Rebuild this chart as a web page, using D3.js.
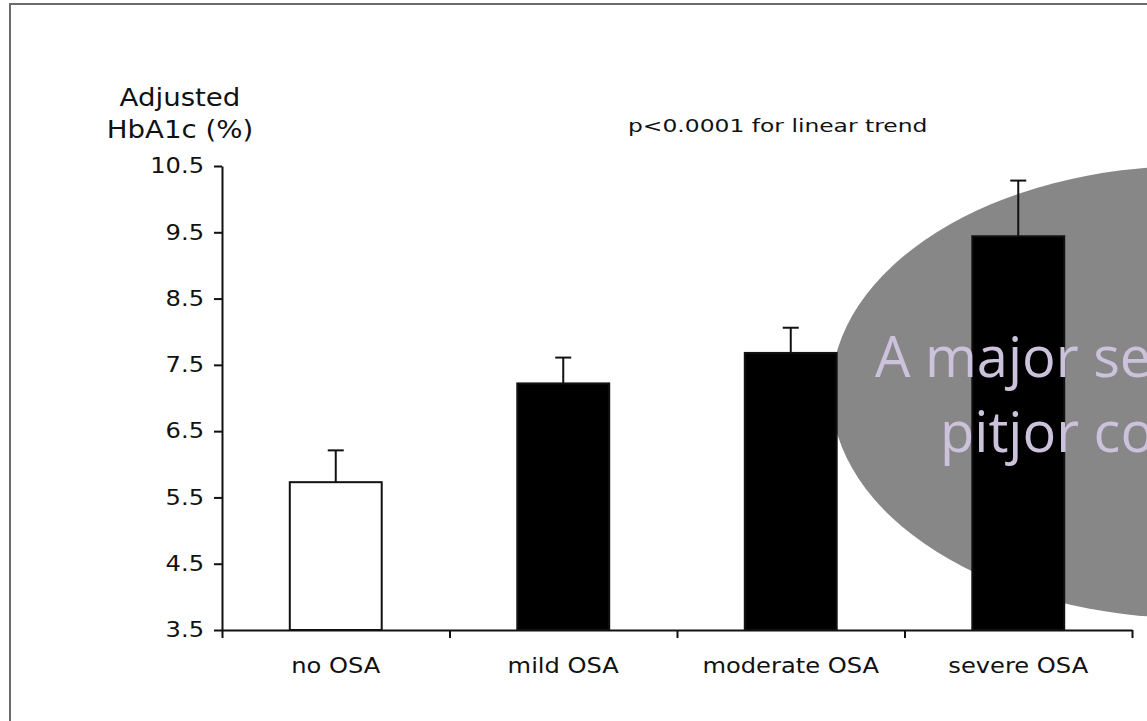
<!DOCTYPE html>
<html>
<head>
<meta charset="utf-8">
<script src="https://cdn.jsdelivr.net/npm/d3@7"></script>
<style>
  html, body { margin: 0; padding: 0; background: #fff; }
  svg { display: block; }
  text { font-family: "DejaVu Sans", Verdana, sans-serif; }
</style>
</head>
<body>
<svg id="chart" width="1147" height="721"></svg>
<script>
// ---- data ----
const categories = ["no OSA", "mild OSA", "moderate OSA", "severe OSA"];
const hba1c = [5.73, 7.22, 7.68, 9.44];
const errorTop = [6.21, 7.61, 8.06, 10.28];
const barFills = ["#ffffff", "#000000", "#000000", "#000000"];
const yTicks = [3.5, 4.5, 5.5, 6.5, 7.5, 8.5, 9.5, 10.5];
const titleLines = ["Adjusted", "HbA1c (%)"];
const note = "p<0.0001 for linear trend";
const overlayLines = ["A major se", "pitjor co"];

// ---- layout ----
const W = 1147, H = 721;
const plotLeft = 222, plotRight = 1132, plotTop = 166, plotBottom = 630;

// widen text horizontally (reference glyphs are stretched)
function stretch(sel, k) {
  sel.each(function () {
    const len = this.getComputedTextLength();
    d3.select(this).attr("textLength", len * k).attr("lengthAdjust", "spacingAndGlyphs");
  });
}

const svg = d3.select("#chart");
svg.append("rect").attr("width", W).attr("height", H).attr("fill", "#fff");

// frame (top + left edges visible)
svg.append("path")
  .attr("d", `M10,${H} V4 H${W}`)
  .attr("fill", "none").attr("stroke", "#6c6c6c").attr("stroke-width", 2);

// grey ellipse behind the chart
svg.append("ellipse")
  .attr("cx", 1192).attr("cy", 392).attr("rx", 361).attr("ry", 226)
  .attr("fill", "#878787");

const x = d3.scaleBand().domain(categories).range([plotLeft, plotRight])
  .paddingInner(0.596).paddingOuter(0.298);
const y = d3.scaleLinear().domain([3.5, 10.5]).range([plotBottom, plotTop]);

// bars
svg.append("g").selectAll("rect").data(categories).join("rect")
  .attr("x", d => x(d))
  .attr("y", (d, i) => y(hba1c[i]))
  .attr("width", x.bandwidth())
  .attr("height", (d, i) => y(3.5) - y(hba1c[i]))
  .attr("fill", (d, i) => barFills[i])
  .attr("stroke", "#111").attr("stroke-width", 2);

// error bars
const eb = svg.append("g").attr("stroke", "#111").attr("stroke-width", 2);
categories.forEach((c, i) => {
  const cx = x(c) + x.bandwidth() / 2;
  eb.append("line").attr("x1", cx).attr("x2", cx)
    .attr("y1", y(hba1c[i])).attr("y2", y(errorTop[i]));
  eb.append("line").attr("x1", cx - 8).attr("x2", cx + 8)
    .attr("y1", y(errorTop[i])).attr("y2", y(errorTop[i]));
});

// y axis
const yAxis = svg.append("g").attr("transform", `translate(${plotLeft},0)`)
  .call(d3.axisLeft(y).tickValues(yTicks).tickFormat(d3.format(".1f"))
    .tickSize(8).tickPadding(10).tickSizeOuter(0));
yAxis.select(".domain").attr("stroke", "#111").attr("stroke-width", 2);
yAxis.selectAll(".tick line").attr("stroke", "#111").attr("stroke-width", 2);
yAxis.selectAll(".tick text").attr("fill", "#111")
  .style("font-family", '"DejaVu Sans", Verdana, sans-serif').style("font-size", "21px")
  .call(stretch, 1.15);

// x axis (ticks between categories)
const boundaries = categories.map(c => x(c) - (x.step() - x.bandwidth()) / 2)
  .concat([plotRight]);
const xb = d3.scaleLinear().domain([plotLeft, plotRight]).range([plotLeft, plotRight]);
const xAxis = svg.append("g").attr("transform", `translate(0,${plotBottom})`)
  .call(d3.axisBottom(xb).tickValues(boundaries).tickFormat("").tickSize(8).tickSizeOuter(0));
xAxis.select(".domain").attr("stroke", "#111").attr("stroke-width", 2);
xAxis.selectAll(".tick line").attr("stroke", "#111").attr("stroke-width", 2);

svg.append("g").selectAll("text").data(categories).join("text")
  .attr("x", d => x(d) + x.bandwidth() / 2)
  .attr("y", 673)
  .attr("text-anchor", "middle")
  .attr("fill", "#111")
  .style("font-size", "21px")
  .text(d => d)
  .call(stretch, 1.15);

// axis title
svg.append("g").selectAll("text").data(titleLines).join("text")
  .attr("x", 180).attr("y", (d, i) => 106 + i * 32)
  .attr("text-anchor", "middle").attr("fill", "#111")
  .style("font-size", "24px")
  .text(d => d)
  .call(stretch, 1.15);

// note
svg.append("text").attr("x", 628).attr("y", 132)
  .attr("fill", "#111").style("font-size", "18px").text(note)
  .call(stretch, 1.3);

// overlay text
svg.append("g").selectAll("text").data(overlayLines).join("text")
  .attr("x", (d, i) => i === 0 ? 875 : 940)
  .attr("y", (d, i) => 377 + i * 75)
  .attr("fill", "#cdc2dc")
  .style("font-family", '"Open Sans", "Noto Sans", sans-serif')
  .style("font-size", "56px")
  .text(d => d);
</script>
</body>
</html>
